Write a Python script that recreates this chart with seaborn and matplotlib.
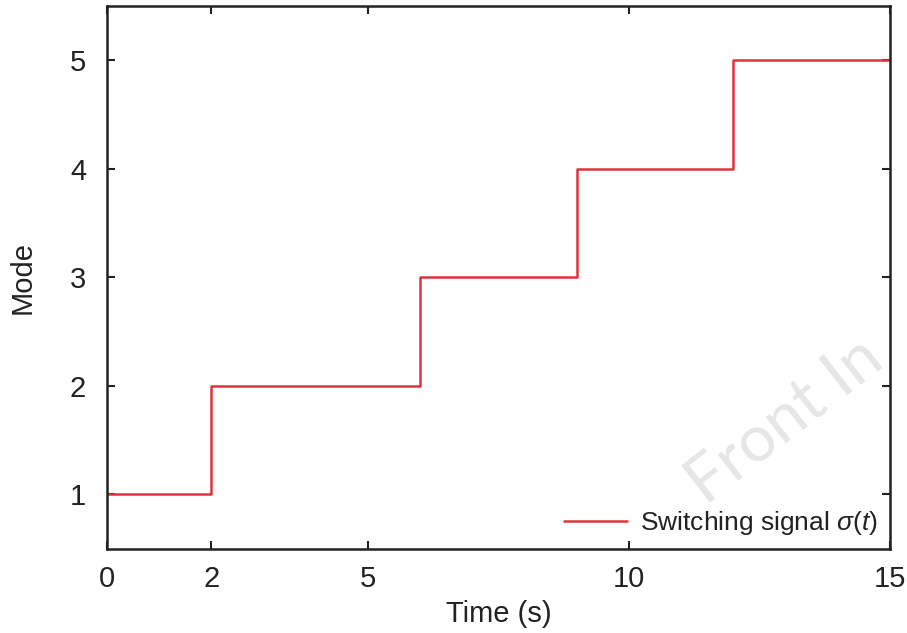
import matplotlib
matplotlib.use("Agg")
import matplotlib.pyplot as plt
import seaborn as sns
import pandas as pd

# Data
time_s = [0, 2, 2, 6, 6, 9, 9, 12, 12, 15]
mode = [1, 1, 2, 2, 3, 3, 4, 4, 5, 5]
x_ticks = [0, 2, 5, 10, 15]
y_ticks = [1, 2, 3, 4, 5]

df = pd.DataFrame({"Time (s)": time_s, "Mode": mode, "series": ["Switching signal $\\sigma(t)$"] * len(time_s)})

sns.set_theme(style="ticks")
plt.rcParams["font.family"] = ["Liberation Sans", "DejaVu Sans"]
plt.rcParams["mathtext.fontset"] = "custom"
plt.rcParams["mathtext.it"] = "Liberation Sans:italic"
plt.rcParams["mathtext.rm"] = "Liberation Sans"

fig = plt.figure(figsize=(9.07, 6.33), dpi=100)
ax = fig.add_axes([0.118, 0.133, 0.863, 0.858])

# Watermark (behind)
fig.text(0.745, 0.205, "Front In", fontsize=47, color="#e6e6e6", rotation=38,
         ha="left", va="baseline", zorder=0, family=["Lato", "DejaVu Sans"])
ax.patch.set_alpha(0)

sns.lineplot(data=df, x="Time (s)", y="Mode", hue="series", palette=["#e0323c"],
             linewidth=1.8, sort=False, estimator=None, ax=ax)

ax.set_xlim(0, 15)
ax.set_ylim(0.5, 5.5)
ax.set_xticks(x_ticks)
ax.set_yticks(y_ticks)
ax.tick_params(direction="in", top=True, right=True, length=6, width=1.5,
               labelsize=21, colors="#222222")
ax.tick_params(axis="x", pad=12)
ax.tick_params(axis="y", pad=15)
for s in ax.spines.values():
    s.set_linewidth(1.8)
    s.set_color("#222222")
ax.set_xlabel("Time (s)", fontsize=21, color="#222222", labelpad=5)
ax.set_ylabel("Mode", fontsize=21, color="#222222", labelpad=24)

leg = ax.legend(loc="lower right", frameon=False, fontsize=19, handlelength=2.4,
                borderaxespad=0.05, handletextpad=0.5)
for t in leg.get_texts():
    t.set_color("#222222")

fig.savefig("out.png", dpi=100)
